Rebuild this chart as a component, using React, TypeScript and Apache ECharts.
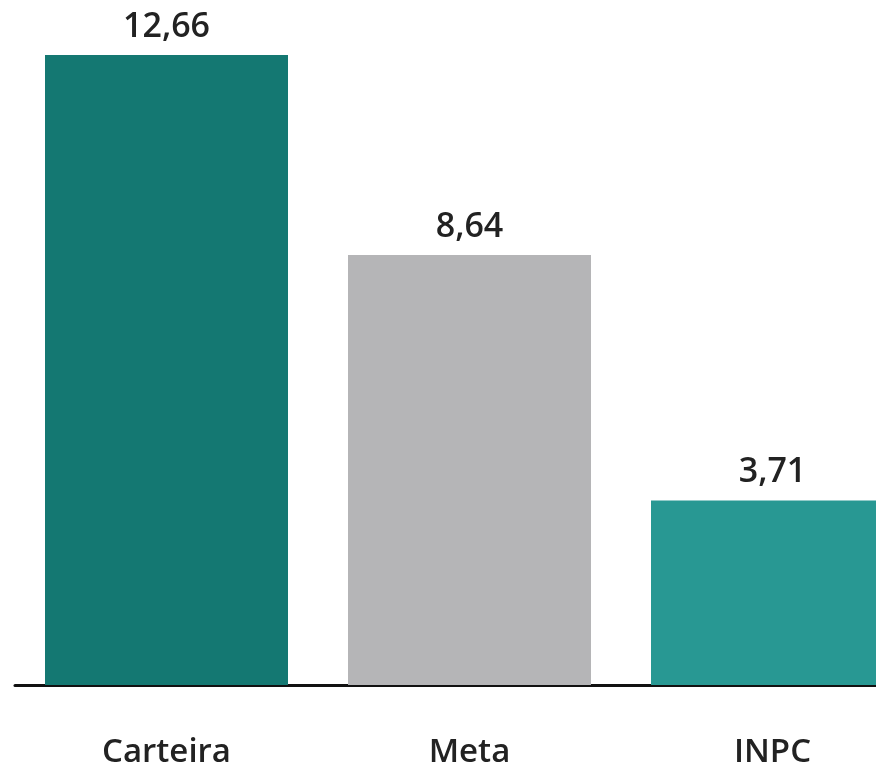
import React, { useEffect, useRef } from "react";
import * as echarts from "echarts";

const categories = ["Carteira", "Meta", "INPC"];
const values = [12.66, 8.64, 3.71];
const barColors = ["#147872", "#b5b5b7", "#289893"];

export default function App() {
  const ref = useRef<HTMLDivElement>(null);
  useEffect(() => {
    const chart = echarts.init(ref.current!, null, { renderer: "svg" });
    chart.setOption({
      animation: false,
      grid: { left: 15, top: 55, right: 0, bottom: 87, containLabel: false },
      xAxis: {
        type: "category",
        data: categories,
        axisLine: { show: true, lineStyle: { color: "#111", width: 3 } },
        axisTick: { show: false },
        axisLabel: {
          margin: 48,
          fontFamily: "Open Sans",
          fontWeight: 600,
          fontSize: 33,
          color: "#222",
        },
      },
      yAxis: {
        type: "value",
        min: 0,
        max: 12.66,
        show: false,
        splitLine: { show: false },
      },
      series: [
        {
          type: "bar",
          barWidth: 243,
          data: values.map((v, i) => ({ value: v, itemStyle: { color: barColors[i] } })),
          label: {
            show: true,
            position: "top",
            distance: 14,
            fontFamily: "Open Sans",
            fontWeight: 600,
            fontSize: 34,
            color: "#222",
            formatter: (p: any) => p.value.toFixed(2).replace(".", ","),
          },
        },
      ],
    });
    return () => chart.dispose();
  }, []);
  return (
    <div style={{ position: "fixed", left: 0, top: 0, width: 876, height: 772, overflow: "hidden" }}>
      <div ref={ref} style={{ width: 924, height: 772 }} />
    </div>
  );
}
